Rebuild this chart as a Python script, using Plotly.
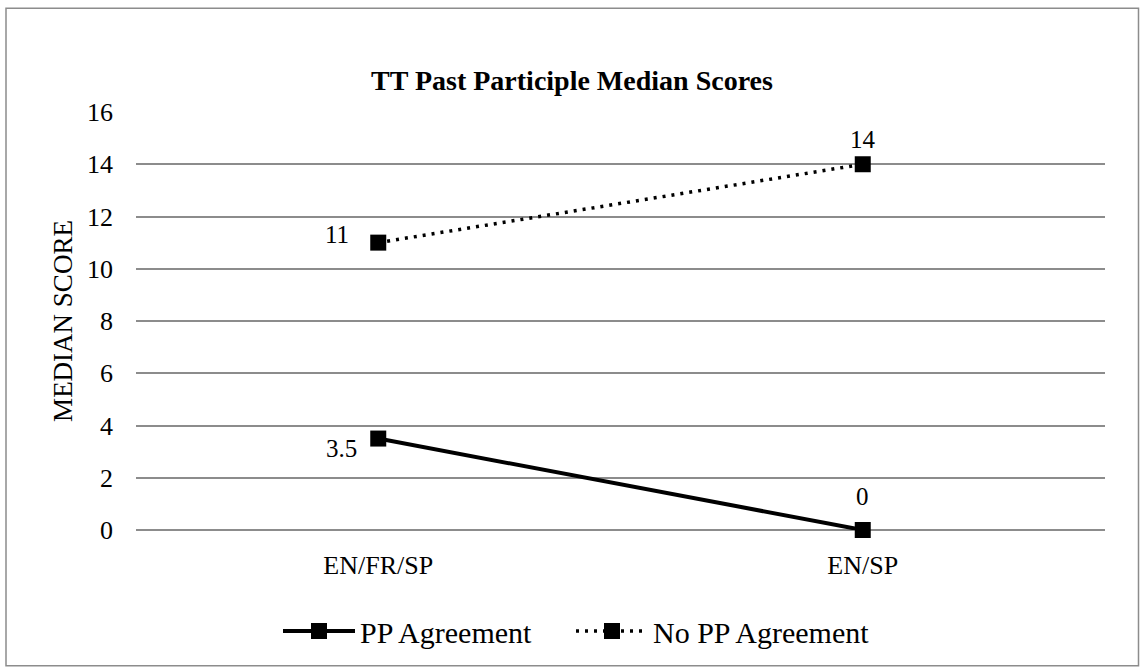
import plotly.graph_objects as go

categories = ["EN/FR/SP", "EN/SP"]
pp_agreement = [3.5, 0]
no_pp_agreement = [11, 14]
y_ticks = [0, 2, 4, 6, 8, 10, 12, 14, 16]

FONT = "Liberation Serif, Times New Roman, serif"

W, H = 1140, 668
L, R, T, B = 136, 35, 112, 137
pw, ph = W - L - R, H - T - B


def px_x(p):
    return (p - L) / pw


def px_y(p):
    return (H - B - p) / ph


fig = go.Figure()
fig.add_trace(go.Scatter(
    x=categories, y=pp_agreement, name="PP Agreement",
    mode="lines+markers", cliponaxis=False, legend="legend",
    line=dict(color="black", width=4, dash="solid"),
    marker=dict(symbol="square", size=16, color="black"),
))
fig.add_trace(go.Scatter(
    x=categories, y=no_pp_agreement, name="No PP Agreement",
    mode="lines+markers", cliponaxis=False, legend="legend2",
    line=dict(color="black", width=3.5, dash="3px,6px"),
    marker=dict(symbol="square", size=16, color="black"),
))

# data labels (label placement style per point: xanchor, xshift, yshift)
label_style_pp = [("right", -19, -10), ("center", 0, 34)]
label_style_nopp = [("right", -27, 8), ("center", 0, 25)]
for series, styles in ((pp_agreement, label_style_pp), (no_pp_agreement, label_style_nopp)):
    for cat, val, (xa, xs, ys) in zip(categories, series, styles):
        fig.add_annotation(x=cat, y=val, xref="x", yref="y", text=f"{val:g}",
                           showarrow=False, xanchor=xa, yanchor="middle",
                           xshift=xs, yshift=ys,
                           font=dict(family=FONT, size=25, color="black"))

fig.add_shape(type="rect", xref="paper", yref="paper",
              x0=px_x(6), x1=px_x(1138.5), y0=px_y(667), y1=px_y(8),
              line=dict(color="#8c8c8c", width=1.5), fillcolor="rgba(0,0,0,0)",
              layer="below")

legend_common = dict(orientation="h", yanchor="middle", y=px_y(631), xanchor="left",
                     font=dict(family=FONT, size=30, color="black"),
                     itemwidth=72, bgcolor="rgba(0,0,0,0)")

fig.update_layout(
    width=W, height=H,
    margin=dict(l=L, r=R, t=T, b=B),
    paper_bgcolor="white", plot_bgcolor="white",
    font=dict(family=FONT, size=26, color="black"),
    title=dict(text="<b>TT Past Participle Median Scores</b>", x=px_x(572), xanchor="center",
               xref="paper", y=1 - 80 / H, yanchor="middle",
               font=dict(family=FONT, size=28, color="black")),
    showlegend=True,
    legend=dict(x=px_x(278), **legend_common),
    legend2=dict(x=px_x(571), **legend_common),
    xaxis=dict(type="category", range=[-0.5, 1.5], showgrid=False, showline=False,
               ticks="", tickfont=dict(family=FONT, size=26), ticklabelstandoff=17),
    yaxis=dict(range=[0, 16], tickvals=y_ticks, showgrid=True, gridcolor="#8c8c8c",
               gridwidth=1.5, zeroline=True, zerolinecolor="#8c8c8c", zerolinewidth=1.5,
               showline=False, ticks="", tickfont=dict(family=FONT, size=26),
               ticklabelstandoff=22,
               title=dict(text="MEDIAN SCORE", font=dict(family=FONT, size=27), standoff=6)),
)

fig.write_html("out.html", config={"displayModeBar": False},
               post_script="document.body.style.margin='0';")
